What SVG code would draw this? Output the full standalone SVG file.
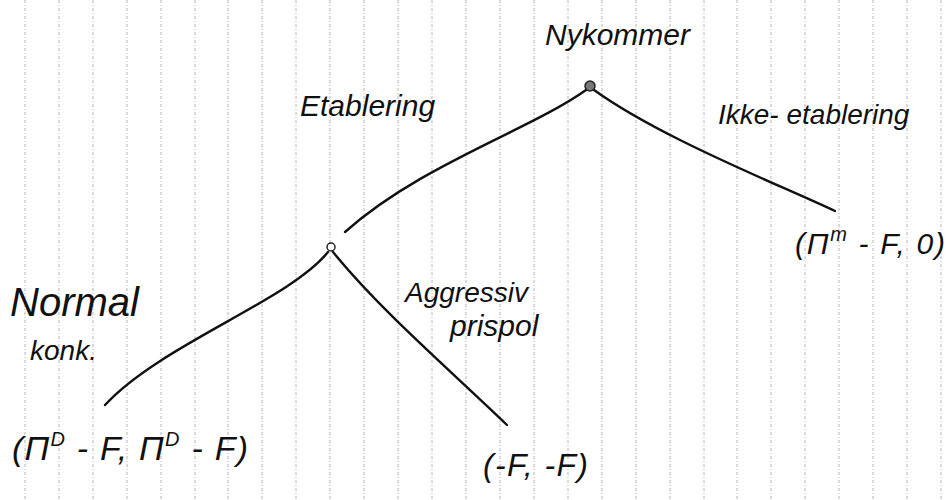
<svg xmlns="http://www.w3.org/2000/svg" width="951" height="500" viewBox="0 0 951 500">
<style>
.grid line{stroke:#b4b4b4;stroke-width:1;stroke-dasharray:3 2 1 2}
.edge{fill:none;stroke:#111;stroke-width:2.4;stroke-linecap:round}
.t{font-family:"Liberation Sans","DejaVu Sans",sans-serif;fill:#111;font-style:italic}
.sup{font-size:20px}
</style>
<rect width="951" height="500" fill="#fff"/>
<g class="grid">
<line x1="25" y1="0" x2="25" y2="500"/><line x1="59" y1="0" x2="59" y2="500"/><line x1="93" y1="0" x2="93" y2="500"/><line x1="127" y1="0" x2="127" y2="500"/><line x1="161" y1="0" x2="161" y2="500"/><line x1="195" y1="0" x2="195" y2="500"/><line x1="228" y1="0" x2="228" y2="500"/><line x1="262" y1="0" x2="262" y2="500"/><line x1="296" y1="0" x2="296" y2="500"/><line x1="330" y1="0" x2="330" y2="500"/><line x1="364" y1="0" x2="364" y2="500"/><line x1="398" y1="0" x2="398" y2="500"/><line x1="432" y1="0" x2="432" y2="500"/><line x1="466" y1="0" x2="466" y2="500"/><line x1="500" y1="0" x2="500" y2="500"/><line x1="534" y1="0" x2="534" y2="500"/><line x1="568" y1="0" x2="568" y2="500"/><line x1="602" y1="0" x2="602" y2="500"/><line x1="636" y1="0" x2="636" y2="500"/><line x1="670" y1="0" x2="670" y2="500"/><line x1="704" y1="0" x2="704" y2="500"/><line x1="737" y1="0" x2="737" y2="500"/><line x1="771" y1="0" x2="771" y2="500"/><line x1="805" y1="0" x2="805" y2="500"/><line x1="839" y1="0" x2="839" y2="500"/><line x1="873" y1="0" x2="873" y2="500"/><line x1="907" y1="0" x2="907" y2="500"/><line x1="941" y1="0" x2="941" y2="500"/>
</g>
<g id="connectors">
<path class="edge" d="M586,90 C530,130 420,165 345,232"/>
<path class="edge" d="M594,90 C615,105 640,120 680,140 C740,170 790,190 835,211"/>
<path class="edge" d="M328,252 C290,300 160,345 105,405"/>
<path class="edge" d="M333,252 C380,310 450,370 507,425"/>
</g>
<g id="root">
<circle cx="590" cy="86" r="5" fill="#777" stroke="#222" stroke-width="1.5"/>
<text class="t" x="545" y="45" font-size="30">Nykommer</text>
</g>
<g id="node-incumbent">
<circle cx="331" cy="247" r="4" fill="#fff" stroke="#222" stroke-width="1.5"/>
</g>
<g id="label-etablering"><text class="t" x="300" y="116" font-size="30">Etablering</text></g>
<g id="label-ikke"><text class="t" x="718" y="124" font-size="28">Ikke- etablering</text></g>
<g id="leaf-monopol"><text class="t" x="795" y="254" font-size="30" textLength="150" lengthAdjust="spacing">(Π<tspan class="sup" dy="-13">m</tspan><tspan dy="13"> - F, 0)</tspan></text></g>
<g id="label-normal">
<text class="t" x="10" y="316" font-size="40">Normal</text>
<text class="t" x="30" y="360" font-size="28">konk.</text>
</g>
<g id="label-aggressiv">
<text class="t" x="405" y="302" font-size="28">Aggressiv</text>
<text class="t" x="450" y="336" font-size="30">prispol</text>
</g>
<g id="leaf-duopol"><text class="t" x="12" y="460" font-size="34" textLength="236" lengthAdjust="spacing">(Π<tspan class="sup" dy="-14">D</tspan><tspan dy="14"> - F, Π</tspan><tspan class="sup" dy="-14">D</tspan><tspan dy="14"> - F)</tspan></text></g>
<g id="leaf-krig"><text class="t" x="483" y="476" font-size="32" textLength="105" lengthAdjust="spacing">(-F, -F)</text></g>
</svg>
